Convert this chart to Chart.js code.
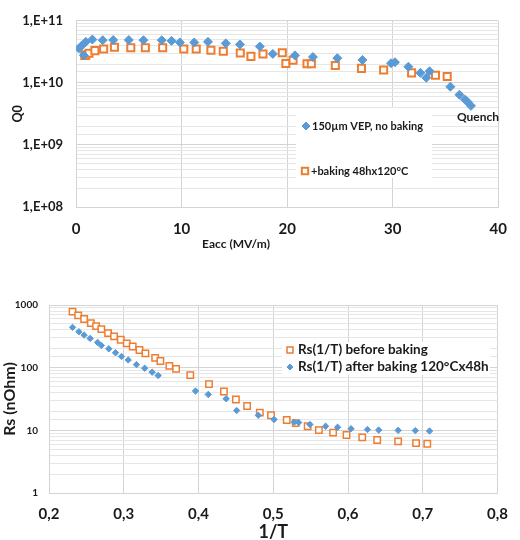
<!DOCTYPE html>
<html>
<head>
<meta charset="utf-8">
<script src="https://cdn.jsdelivr.net/npm/chart.js@4.4.1/dist/chart.umd.min.js"></script>
<style>
  html, body { margin: 0; padding: 0; background: #fff; }
  #wrap { position: relative; width: 520px; height: 540px; }
  canvas { position: absolute; left: 0; }
  #q0Chart { top: 0; }
  #rsChart { top: 262px; }
</style>
</head>
<body>
<div id="wrap">
  <canvas id="q0Chart" width="520" height="262"></canvas>
  <canvas id="rsChart" width="520" height="278"></canvas>
</div>
<script>
// Top chart: Q0 vs Eacc
const eaccVep = [0.28, 0.53, 0.74, 0.93, 1.55, 2.53, 3.52, 5.0, 6.39, 8.12, 9.05, 9.84, 11.2, 12.5, 14.19, 15.53, 17.41, 18.64, 20.74, 22.44, 24.75, 27.13, 29.84, 30.21, 31.48, 32.62, 33.18, 33.49, 35.46, 36.32, 36.85, 37.1, 37.41];
const q0Vep = [3.6e10, 3.96e10, 2.77e10, 4.58e10, 4.99e10, 4.87e10, 4.9e10, 4.9e10, 4.87e10, 4.87e10, 4.75e10, 4.48e10, 4.48e10, 4.58e10, 4.33e10, 4.17e10, 3.85e10, 2.93e10, 2.77e10, 2.61e10, 2.5e10, 2.34e10, 2.07e10, 2.15e10, 1.82e10, 1.45e10, 1.21e10, 1.54e10, 8.66e9, 6.43e9, 5.37e9, 4.92e9, 4.26e9];
const eaccBake = [0.83, 0.93, 1.23, 1.79, 2.62, 3.64, 5.19, 6.57, 8.21, 10.21, 11.39, 12.78, 13.95, 15.56, 16.57, 17.71, 19.54, 19.88, 20.56, 21.88, 22.29, 24.56, 27.04, 29.14, 31.79, 34.05, 35.16];
const q0Bake = [2.77e10, 2.8e10, 3.0e10, 3.31e10, 3.52e10, 3.74e10, 3.69e10, 3.69e10, 3.69e10, 3.52e10, 3.52e10, 3.36e10, 3.24e10, 3.02e10, 2.67e10, 2.91e10, 3.05e10, 2.05e10, 2.31e10, 2.03e10, 2.03e10, 1.91e10, 1.71e10, 1.61e10, 1.45e10, 1.33e10, 1.27e10];
const eaccTicks = [0, 10, 20, 30, 40];
const q0Labels = ["1,E+08", "1,E+09", "1,E+10", "1,E+11"];

// Bottom chart: Rs vs 1/T
const invTBefore = [0.2315, 0.239, 0.247, 0.256, 0.263, 0.27, 0.279, 0.287, 0.296, 0.304, 0.312, 0.321, 0.329, 0.342, 0.349, 0.361, 0.37, 0.389, 0.414, 0.434, 0.45, 0.465, 0.482, 0.497, 0.518, 0.53, 0.546, 0.561, 0.58, 0.598, 0.619, 0.639, 0.667, 0.691, 0.706];
const rsBefore = [782, 684, 597, 515, 461, 413, 356, 315, 279, 244, 218, 191, 169, 143, 128, 107, 95.7, 75.9, 54.5, 41.6, 31.0, 24.4, 19.2, 17.4, 14.6, 13.0, 11.6, 10.1, 9.18, 8.41, 7.73, 7.0, 6.67, 6.26, 6.12];
const invTAfter = [0.2315, 0.24, 0.247, 0.255, 0.265, 0.27, 0.28, 0.289, 0.297, 0.306, 0.317, 0.328, 0.338, 0.346, 0.396, 0.413, 0.437, 0.451, 0.48, 0.501, 0.528, 0.534, 0.549, 0.57, 0.586, 0.604, 0.626, 0.641, 0.667, 0.69, 0.709];
const rsAfter = [440, 374, 331, 293, 253, 226, 200, 173, 151, 133, 112, 98, 84.7, 75, 42.4, 37.4, 31.9, 20.7, 17.4, 14.9, 13.5, 13.3, 12.4, 11.6, 11.2, 10.6, 10.3, 10.1, 10.0, 9.9, 9.75];
const invTTicks = ["0,2", "0,3", "0,4", "0,5", "0,6", "0,7", "0,8"];
const rsLabels = ["1", "10", "100", "1000"];

const BLUE = "#5b9bd5";
const ORANGE = "#ed7d31";
const FONT = 'Lato, "Liberation Sans", sans-serif';

const toPoints = (xs, ys) => xs.map((x, i) => ({ x: x, y: ys[i] }));
const isDecade = (v) => Math.abs(Math.log10(v) - Math.round(Math.log10(v))) < 1e-9;
const gridColor = (c) => (c.tick && isDecade(c.tick.value) ? "#d4d4d4" : "#e6e6e6");

// draws a boxed legend + free text on top of the plot
const overlayPlugin = {
  id: "overlay",
  afterDraw(chart, args, opts) {
    const ctx = chart.ctx;
    const h = Chart.helpers;
    ctx.save();
    if (opts.box) {
      ctx.fillStyle = "#fff";
      ctx.fillRect(opts.box[0], opts.box[1], opts.box[2], opts.box[3]);
    }
    (opts.items || []).forEach((it) => {
      const ds = chart.data.datasets[it.ds];
      ctx.fillStyle = ds.backgroundColor;
      ctx.strokeStyle = ds.borderColor;
      ctx.lineWidth = ds.borderWidth;
      h.drawPoint(ctx, { pointStyle: ds.pointStyle, radius: it.r, rotation: 0, borderWidth: ds.borderWidth }, it.mx, it.y);
      ctx.fillStyle = "#1a1a1a";
      ctx.font = it.font;
      ctx.textAlign = "left";
      ctx.textBaseline = "middle";
      ctx.fillText(ds.label, it.tx, it.y);
    });
    (opts.texts || []).forEach((t) => {
      ctx.fillStyle = "#1a1a1a";
      ctx.font = t.font;
      ctx.textAlign = "center";
      ctx.textBaseline = "middle";
      ctx.fillText(t.text, t.x, t.y);
    });
    ctx.restore();
  },
};

new Chart(document.getElementById("q0Chart"), {
  type: "scatter",
  plugins: [overlayPlugin],
  data: {
    datasets: [
      {
        label: "150µm VEP, no baking",
        data: toPoints(eaccVep, q0Vep),
        pointStyle: "rectRot",
        pointRadius: 4.5,
        backgroundColor: BLUE,
        borderColor: BLUE,
        borderWidth: 1,
        order: 0,
      },
      {
        label: "+baking 48hx120°C",
        data: toPoints(eaccBake, q0Bake),
        pointStyle: "rect",
        pointRadius: 5,
        backgroundColor: "#fff",
        borderColor: ORANGE,
        borderWidth: 2,
        order: 1,
      },
    ],
  },
  options: {
    responsive: false,
    animation: false,
    devicePixelRatio: 1,
    layout: { padding: { left: 0, right: 12, top: 15, bottom: 0 } },
    plugins: {
      legend: { display: false },
      tooltip: { enabled: false },
      overlay: {
        box: [296, 108, 136, 70],
        items: [
          { ds: 0, r: 4, mx: 306, tx: 312, y: 126, font: "bold 11px " + FONT },
          { ds: 1, r: 4.5, mx: 305, tx: 311, y: 171, font: "bold 11px " + FONT },
        ],
        texts: [
          { text: "Quench", x: 478, y: 117, font: "bold 12px " + FONT },
          { text: "Eacc (MV/m)", x: 236, y: 244, font: "bold 12px " + FONT },
        ],
      },
    },
    scales: {
      x: {
        type: "linear",
        min: eaccTicks[0],
        max: eaccTicks[eaccTicks.length - 1],
        afterFit: (s) => { s.height = 55; },
        afterBuildTicks: (s) => { s.ticks = eaccTicks.map((v) => ({ value: v })); },
        ticks: { padding: 13, color: "#1a1a1a", font: { family: FONT, size: 15, weight: "bold" } },
        grid: { color: "#d4d4d4", drawTicks: false },
        border: { color: "#d4d4d4" },
      },
      y: {
        type: "logarithmic",
        min: 1e8,
        max: 1e11,
        afterFit: (s) => { s.width = 76; },
        ticks: {
          padding: 13,
          autoSkip: false,
          color: "#1a1a1a",
          font: { family: FONT, size: 13, weight: "bold" },
          callback: (v) => (isDecade(v) ? q0Labels[Math.round(Math.log10(v)) - 8] : ""),
        },
        grid: { color: gridColor, drawTicks: false },
        border: { color: "#d4d4d4" },
        title: { display: true, text: "Q0", padding: { top: 10 }, color: "#1a1a1a", font: { family: FONT, size: 12.5, weight: "bold" } },
      },
    },
  },
});

new Chart(document.getElementById("rsChart"), {
  type: "scatter",
  plugins: [overlayPlugin],
  data: {
    datasets: [
      {
        label: "Rs(1/T) before baking",
        data: toPoints(invTBefore, rsBefore),
        pointStyle: "rect",
        pointRadius: 4.5,
        backgroundColor: "#fff",
        borderColor: ORANGE,
        borderWidth: 1.5,
        order: 1,
      },
      {
        label: "Rs(1/T) after baking 120°Cx48h",
        data: toPoints(invTAfter, rsAfter),
        pointStyle: "rectRot",
        pointRadius: 3.2,
        backgroundColor: BLUE,
        borderColor: BLUE,
        borderWidth: 1,
        order: 0,
      },
    ],
  },
  options: {
    responsive: false,
    animation: false,
    devicePixelRatio: 1,
    layout: { padding: { left: 0, right: 19, top: 43, bottom: 0 } },
    plugins: {
      legend: { display: false },
      tooltip: { enabled: false },
      overlay: {
        box: [282, 80, 208, 33],
        items: [
          { ds: 0, r: 4.2, mx: 290, tx: 298, y: 88, font: "bold 13.5px " + FONT },
          { ds: 1, r: 3, mx: 290, tx: 298, y: 105, font: "bold 13.5px " + FONT },
        ],
      },
    },
    scales: {
      x: {
        type: "linear",
        min: 0.2,
        max: 0.8,
        afterFit: (s) => { s.height = 47; },
        afterBuildTicks: (s) => { s.ticks = invTTicks.map((t) => ({ value: parseFloat(t.replace(",", ".")) })); },
        ticks: {
          padding: 12,
          color: "#1a1a1a",
          font: { family: FONT, size: 15, weight: "bold" },
          callback: (v, i) => invTTicks[i],
        },
        grid: { color: "#d4d4d4", drawTicks: false },
        border: { color: "#d4d4d4" },
        title: { display: true, text: "1/T", padding: { top: 0, bottom: 0 }, color: "#1a1a1a", font: { family: FONT, size: 18, weight: "bold", lineHeight: 0.9 } },
      },
      y: {
        type: "logarithmic",
        min: 1,
        max: 1000,
        afterFit: (s) => { s.width = 49; },
        ticks: {
          padding: 11,
          autoSkip: false,
          color: "#1a1a1a",
          font: { family: FONT, size: 10, weight: "bold" },
          callback: (v) => (isDecade(v) ? rsLabels[Math.round(Math.log10(v))] : ""),
        },
        grid: { color: gridColor, drawTicks: false },
        border: { color: "#d4d4d4" },
        title: { display: true, text: "Rs (nOhm)", padding: { top: 0 }, color: "#1a1a1a", font: { family: FONT, size: 16, weight: "bold" } },
      },
    },
  },
});
</script>
</body>
</html>
